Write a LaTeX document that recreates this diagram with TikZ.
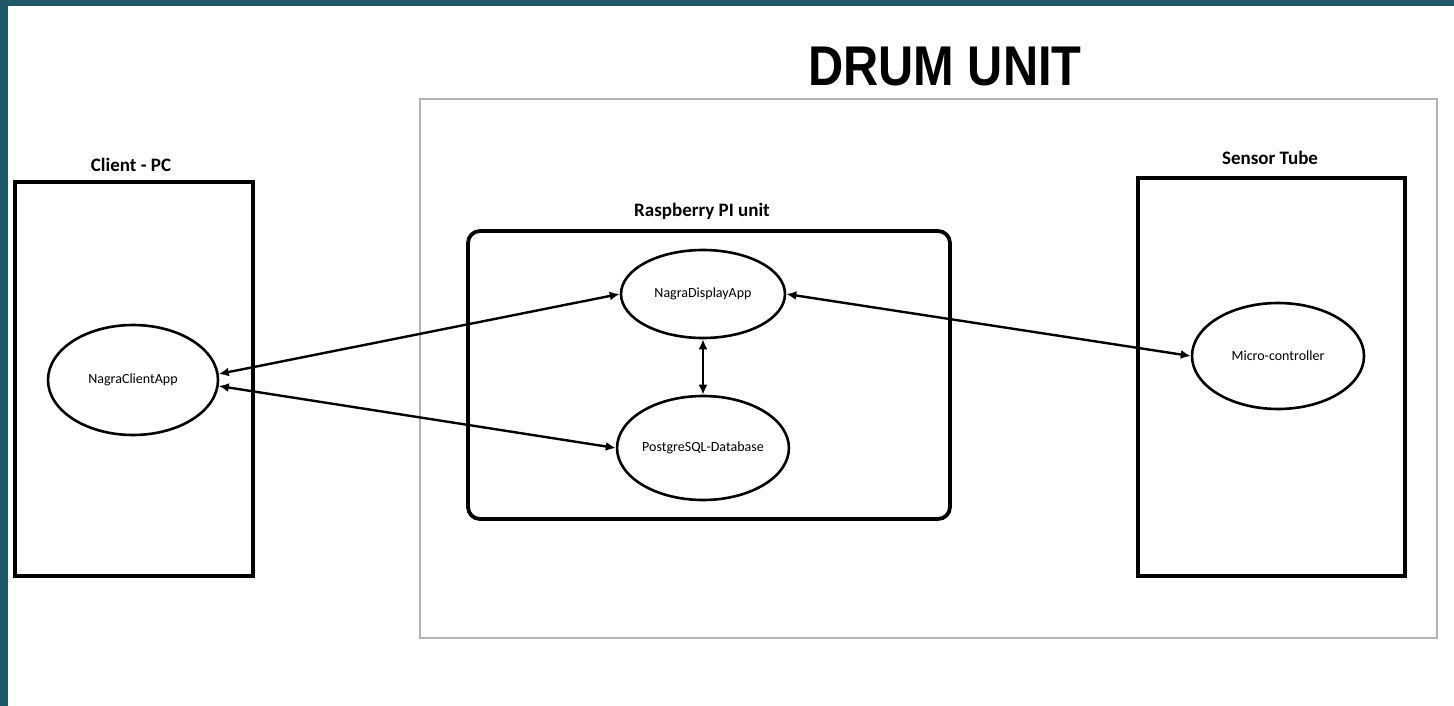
\documentclass[tikz,border=0pt]{standalone}
\usepackage{fontspec}
\setmainfont{Carlito}
\newfontfamily\titlefont{Liberation Sans}
\usetikzlibrary{shapes.geometric,arrows.meta}
\definecolor{teal}{HTML}{215868}
\definecolor{framegray}{HTML}{B4B4B4}
\tikzset{
  blackbox/.style={draw=black, line width=4.5pt, fill=none, inner sep=0pt},
  appnode/.style={ellipse, draw=black, line width=2.6pt, inner sep=0pt, font=\fontsize{14}{16}\selectfont},
  boxlabel/.style={font=\fontsize{19}{22}\selectfont\bfseries, inner sep=0pt},
  link/.style={line width=2.4pt, {Latex[length=10pt,width=9pt]}-{Latex[length=10pt,width=9pt]}}
}
\begin{document}
\begin{tikzpicture}[x=1pt,y=-1pt]
\useasboundingbox (0,0) rectangle (1454,706);
\fill[white] (0,0) rectangle (1454,706);
\fill[teal] (0,0) rectangle (8,706);
\fill[teal] (0,0) rectangle (1454,6);
% Drum unit frame
\node[draw=framegray, line width=2pt, minimum width=1017pt, minimum height=539pt, inner sep=0pt] (drumbox) at (928.5,368.5) {};
\node[inner sep=0pt, font=\titlefont\bfseries\fontsize{56}{60}\selectfont, xscale=0.87] (drumlabel) at (945,67) {DRUM UNIT};
% Client PC
\node[blackbox, minimum width=238pt, minimum height=394pt] (clientbox) at (134,379) {};
\node[boxlabel] (clientlabel) at (131,165) {Client - PC};
% Raspberry Pi
\node[blackbox, line width=3.8pt, rounded corners=12pt, minimum width=482pt, minimum height=288pt] (rpibox) at (709,375) {};
\node[boxlabel] (rpilabel) at (702,211) {Raspberry PI unit};
% Sensor tube
\node[blackbox, minimum width=267pt, minimum height=398pt] (sensorbox) at (1271.5,377) {};
\node[boxlabel] (sensorlabel) at (1270,158) {Sensor Tube};
% Apps
\node[appnode, minimum width=170pt, minimum height=110pt] (client) at (133,380) {NagraClientApp};
\node[appnode, minimum width=164pt, minimum height=88pt] (display) at (703,294) {NagraDisplayApp};
\node[appnode, minimum width=164pt, minimum height=104pt] (db) at (703,448) {PostgreSQL-Database};
\node[appnode, minimum width=172pt, minimum height=106pt] (micro) at (1278,356) {Micro-controller};
% Connectors
\draw[link] (client.4) -- (display.west);
\draw[link] (client.-4) -- (db.west);
\draw[link] (display.south) -- (db.north);
\draw[link] (display.east) -- (micro.west);
\end{tikzpicture}
\end{document}
